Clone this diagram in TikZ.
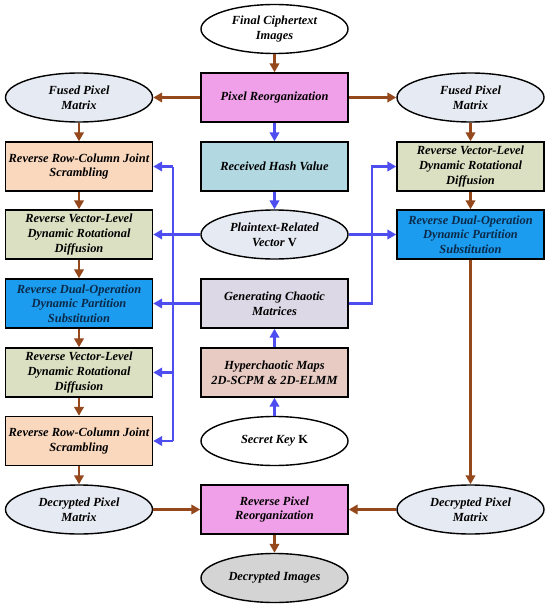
\documentclass[tikz,border=0pt]{standalone}
\usepackage{fontspec}
\setmainfont{Liberation Serif}
\usetikzlibrary{shapes.geometric,arrows.meta}
\definecolor{brn}{HTML}{94481C}
\definecolor{blu}{HTML}{4E4EF0}
\definecolor{ellc}{HTML}{E6EAF2}
\definecolor{pinkc}{HTML}{F0A0E8}
\definecolor{peach}{HTML}{FAD8BE}
\definecolor{greenc}{HTML}{DCE0C2}
\definecolor{bluebox}{HTML}{1C9CEE}
\definecolor{navy}{HTML}{0B2A4A}
\definecolor{hashc}{HTML}{B2D8E2}
\definecolor{lavc}{HTML}{DCD8E6}
\definecolor{rosec}{HTML}{E8CCC4}
\definecolor{grayc}{HTML}{D4D4D4}
\tikzset{
  lbl/.style={font=\fontsize{12.4}{14.6}\selectfont\bfseries\itshape, align=center, inner sep=0pt},
  box/.style={lbl, draw, line width=1.4pt, minimum width=147pt, minimum height=49pt},
  ell/.style={lbl, ellipse, draw, line width=1.4pt, minimum width=147pt, minimum height=49pt, fill=ellc},
  brarr/.style={draw=brn, line width=2.7pt, -{Triangle[length=9pt,width=9.5pt]}},
  blarr/.style={draw=blu, line width=2.7pt, -{Triangle[length=9pt,width=9.5pt]}},
  blline/.style={draw=blu, line width=2.7pt}
}
\begin{document}
\begin{tikzpicture}[x=1pt,y=-1pt]
\useasboundingbox (0,0) rectangle (550,607);
% middle column
\node[ell, fill=white] (fin) at (274.5,29) {Final Ciphertext\\Images};
\node[box, fill=pinkc] (pr) at (274.5,97.5) {Pixel Reorganization};
\node[box, fill=hashc] (hash) at (274.5,166.5) {Received Hash Value};
\node[ell] (pv) at (274.5,234.5) {Plaintext-Related\\Vector \textup{V}};
\node[box, fill=lavc] (gcm) at (274.5,303.5) {Generating Chaotic\\Matrices};
\node[box, fill=rosec] (hm) at (274.5,372.5) {Hyperchaotic Maps\\2D-SCPM \& 2D-ELMM};
\node[ell, fill=white] (sk) at (274.5,441) {Secret Key \textup{K}};
\node[box, fill=pinkc] (rpr) at (274.5,509.5) {Reverse Pixel\\Reorganization};
\node[ell, fill=grayc] (di) at (274.5,578) {Decrypted Images};
% left column
\node[ell] (fl) at (79,97.5) {Fused Pixel\\Matrix};
\node[box, fill=peach] (l1) at (79,166.5) {Reverse Row-Column Joint\\Scrambling};
\node[box, fill=greenc] (l2) at (79,234.5) {Reverse Vector-Level\\Dynamic Rotational\\Diffusion};
\node[box, fill=bluebox, text=navy] (l3) at (79,303.5) {Reverse Dual-Operation\\Dynamic Partition\\Substitution};
\node[box, fill=greenc] (l4) at (79,372.5) {Reverse Vector-Level\\Dynamic Rotational\\Diffusion};
\node[box, fill=peach] (l5) at (79,441) {Reverse Row-Column Joint\\Scrambling};
\node[ell] (dl) at (79,509.5) {Decrypted Pixel\\Matrix};
% right column
\node[ell] (fr) at (470.5,97.5) {Fused Pixel\\Matrix};
\node[box, fill=greenc] (r1) at (470.5,166.5) {Reverse Vector-Level\\Dynamic Rotational\\Diffusion};
\node[box, fill=bluebox, text=navy] (r2) at (470.5,234.5) {Reverse Dual-Operation\\Dynamic Partition\\Substitution};
\node[ell] (dr) at (470.5,509.5) {Decrypted Pixel\\Matrix};
% coordinates
\coordinate (ltop) at (173,166.5);
\coordinate (lbot) at (173,441);
\coordinate (rtop) at (372,166.5);
% brown arrows
\draw[brarr] (fin) -- (pr);
\draw[brarr] (pr) -- (fl);
\draw[brarr] (pr) -- (fr);
\draw[brarr] (fl) -- (l1);
\draw[brarr] (l1) -- (l2);
\draw[brarr] (l2) -- (l3);
\draw[brarr] (l3) -- (l4);
\draw[brarr] (l4) -- (l5);
\draw[brarr] (l5) -- (dl);
\draw[brarr] (fr) -- (r1);
\draw[brarr] (r1) -- (r2);
\draw[brarr] (r2) -- (dr);
\draw[brarr] (dl) -- (rpr);
\draw[brarr] (dr) -- (rpr);
\draw[brarr] (rpr) -- (di);
% blue arrows
\draw[blarr] (pr) -- (hash);
\draw[blarr] (hash) -- (pv);
\draw[blarr] (sk) -- (hm);
\draw[blarr] (hm) -- (gcm);
\draw[blarr] (pv) -- (l2);
\draw[blarr] (pv) -- (r2);
\draw[blarr] (gcm) -- (l3);
\draw[blline] (ltop) -- (lbot);
\draw[blarr] (ltop) -- (l1.east);
\draw[blarr] (ltop |- l4) -- (l4.east);
\draw[blarr] (lbot) -- (l5.east);
\draw[blarr] (gcm.east) -| (rtop) -- (r1.west);
\end{tikzpicture}
\end{document}
